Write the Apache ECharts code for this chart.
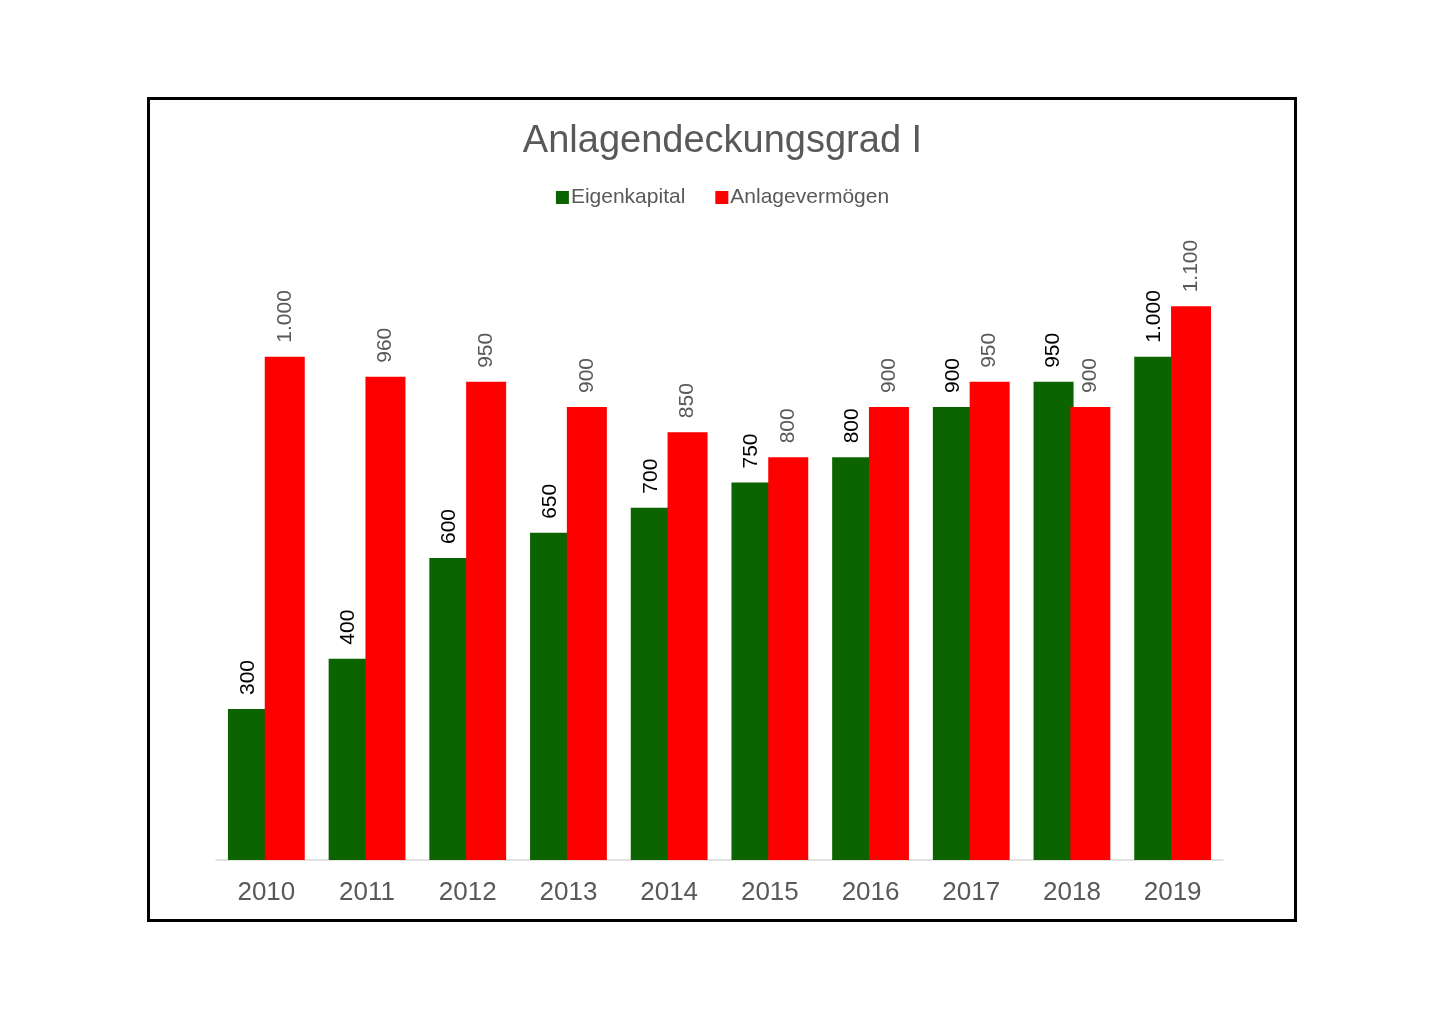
<!DOCTYPE html>
<html lang="de">
  <head>
    <meta charset="utf-8" />
    <title>Anlagendeckungsgrad I</title>
    <script src="https://cdn.jsdelivr.net/npm/echarts@6/dist/echarts.min.js"></script>
    <style>
      html, body { margin: 0; padding: 0; background: #fff; }
      #main { width: 1445px; height: 1021px; }
    </style>
  </head>
  <body>
    <div id="main"></div>
    <script>
      // Daten
      var jahre = ["2010", "2011", "2012", "2013", "2014", "2015", "2016", "2017", "2018", "2019"];
      var eigenkapital = [300, 400, 600, 650, 700, 750, 800, 900, 950, 1000];
      var anlagevermoegen = [1000, 960, 950, 900, 850, 800, 900, 950, 900, 1100];

      var fontName = "Liberation Sans, Arial, sans-serif";

      // Tausenderpunkt wie im Original
      function fmt(p) {
        return String(p.value).replace(/\B(?=(\d{3})+(?!\d))/g, ".");
      }

      var myChart = echarts.init(document.getElementById("main"));

      var option = {
        backgroundColor: "#fff",
        animation: false,
        textStyle: { fontFamily: fontName },
        title: {
          text: "Anlagendeckungsgrad I",
          left: "center",
          top: 123,
          padding: 0,
          textStyle: { fontSize: 38, fontWeight: "normal", color: "#595959", fontFamily: fontName }
        },
        legend: {
          top: 187,
          left: "center",
          padding: 0,
          icon: "rect",
          itemWidth: 13,
          itemHeight: 13,
          itemGap: 30,
          textStyle: { fontSize: 21, color: "#595959", padding: [0, 0, 0, -3] },
          data: ["Eigenkapital", "Anlagevermögen"]
        },
        grid: { left: 216, right: 222, top: 256, bottom: 161 },
        xAxis: {
          type: "category",
          data: jahre,
          axisLine: { lineStyle: { color: "#d9d9d9", width: 1.5 } },
          axisTick: { show: false },
          axisLabel: { fontSize: 26, color: "#595959", margin: 20 }
        },
        yAxis: {
          type: "value",
          min: 0,
          max: 1200,
          show: false,
          splitLine: { show: false }
        },
        graphic: [
          {
            type: "rect",
            shape: { x: 148.5, y: 98.5, width: 1147, height: 822 },
            style: { fill: "none", stroke: "#000", lineWidth: 3 },
            silent: true
          }
        ],
        series: [
          {
            name: "Eigenkapital",
            type: "bar",
            data: eigenkapital,
            barWidth: 40,
            barGap: "-8%",
            itemStyle: { color: "#0b6400" },
            label: {
              show: true,
              position: "top",
              rotate: 90,
              align: "left",
              verticalAlign: "middle",
              distance: 14,
              fontSize: 21,
              color: "#000",
              formatter: fmt
            }
          },
          {
            name: "Anlagevermögen",
            type: "bar",
            data: anlagevermoegen,
            barWidth: 40,
            itemStyle: { color: "#ff0000" },
            label: {
              show: true,
              position: "top",
              rotate: 90,
              align: "left",
              verticalAlign: "middle",
              distance: 14,
              fontSize: 21,
              color: "#595959",
              formatter: fmt
            }
          }
        ]
      };

      myChart.setOption(option);
    </script>
  </body>
</html>
